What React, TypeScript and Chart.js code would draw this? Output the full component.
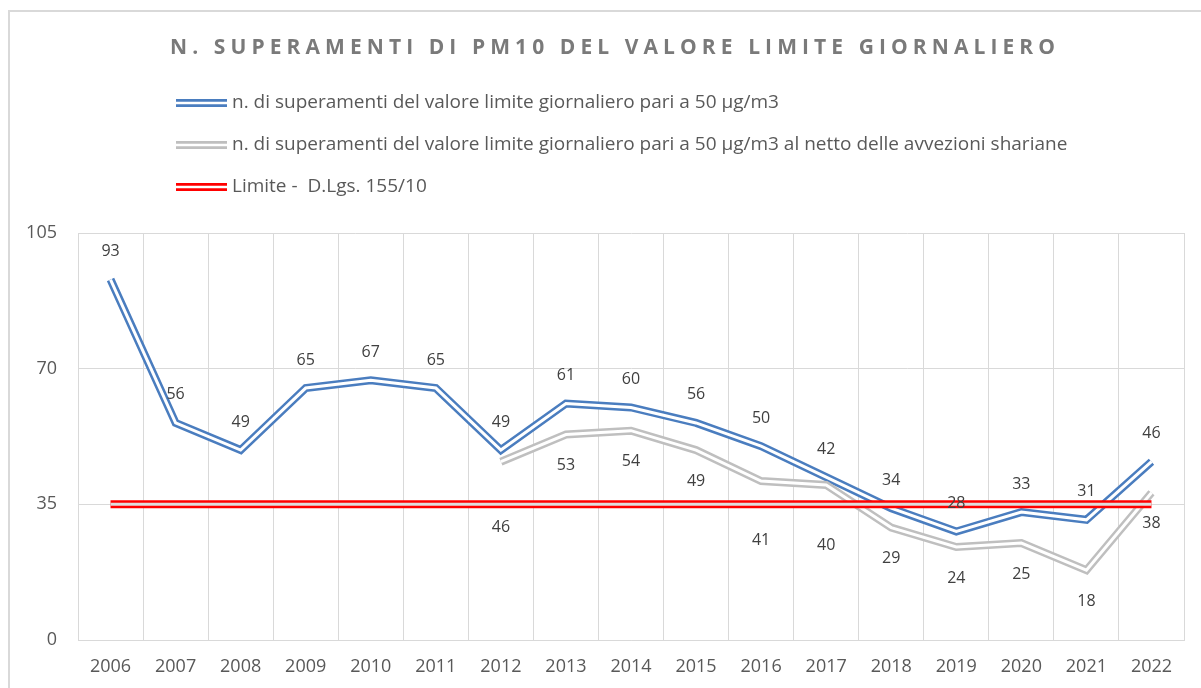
import React, { useEffect, useRef } from "react";
import { Chart, registerables } from "chart.js";

Chart.register(...registerables);

// ---------- DATA ----------
const years = ["2006", "2007", "2008", "2009", "2010", "2011", "2012", "2013", "2014", "2015", "2016", "2017", "2018", "2019", "2020", "2021", "2022"];
const exceedances = [93, 56, 49, 65, 67, 65, 49, 61, 60, 56, 50, 42, 34, 28, 33, 31, 46];
const exceedancesNet = [null, null, null, null, null, null, 46, 53, 54, 49, 41, 40, 29, 24, 25, 18, 38];
const limitValues = [35, 35, 35, 35, 35, 35, 35, 35, 35, 35, 35, 35, 35, 35, 35, 35, 35];
const yTicks = [0, 35, 70, 105];

const titleText = "N. SUPERAMENTI DI PM10 DEL VALORE LIMITE GIORNALIERO";
const seriesLabels = [
  "n. di superamenti del valore limite giornaliero pari a 50 µg/m3",
  "n. di superamenti del valore limite giornaliero pari a 50 µg/m3 al netto delle avvezioni shariane",
  "Limite -  D.Lgs. 155/10",
];
// extra downward shift (px) of a few grey value labels, moved by hand in the original
const greyLabelNudge: Record<string, number> = { "2012": 35, "2016": 28, "2017": 29 };

// ---------- STYLE ----------
const BLUE = "#4a7dbf";
const GREY = "#bfbfbf";
const RED = "#ff0000";
const GRID = "#d9d9d9";
const TEXT = "#595959";
const FONT = '"Open Sans", "Liberation Sans", sans-serif';

const doubleLinePlugin = {
  id: "doubleLine",
  afterDatasetDraw(chart: any, args: any) {
    const ds = chart.data.datasets[args.index];
    if (!ds.innerColor) return;
    const meta = args.meta;
    const ctx = chart.ctx;
    ctx.save();
    ctx.strokeStyle = ds.innerColor;
    ctx.lineWidth = ds.innerWidth;
    ctx.lineJoin = "miter";
    ctx.lineCap = "butt";
    ctx.beginPath();
    let started = false;
    meta.data.forEach((pt: any, i: number) => {
      const v = ds.data[i];
      if (v === null || v === undefined) {
        started = false;
        return;
      }
      if (!started) {
        ctx.moveTo(pt.x, pt.y);
        started = true;
      } else ctx.lineTo(pt.x, pt.y);
    });
    ctx.stroke();
    ctx.restore();
  },
};

const valueLabelPlugin = {
  id: "valueLabels",
  afterDatasetsDraw(chart: any) {
    const ctx = chart.ctx;
    ctx.save();
    ctx.font = `16px ${FONT}`;
    ctx.fillStyle = "#404040";
    ctx.textAlign = "center";
    ctx.textBaseline = "middle";
    [0, 1].forEach((di) => {
      const ds = chart.data.datasets[di];
      const meta = chart.getDatasetMeta(di);
      meta.data.forEach((pt: any, i: number) => {
        const v = ds.data[i];
        if (v === null || v === undefined) return;
        const y = di === 0 ? pt.y - 28 : pt.y + 31 + (greyLabelNudge[years[i]] || 0);
        ctx.fillText(String(v), pt.x, y);
      });
    });
    ctx.restore();
  },
};

const titleLegendPlugin = {
  id: "titleLegend",
  afterDraw(chart: any) {
    const ctx = chart.ctx;
    ctx.save();
    // title
    ctx.font = `bold 21px ${FONT}`;
    ctx.fillStyle = "#7a7a7a";
    ctx.textBaseline = "middle";
    ctx.textAlign = "left";
    (ctx as any).letterSpacing = "0px";
    const w = ctx.measureText(titleText).width;
    const target = 885;
    const ls = (target - w) / (titleText.length - 1);
    (ctx as any).letterSpacing = `${ls}px`;
    ctx.fillText(titleText, 160, 36);
    (ctx as any).letterSpacing = "0px";

    // legend
    const colors = [BLUE, GREY, RED];
    const rowsY = [91, 133, 175];
    ctx.font = `19px ${FONT}`;
    seriesLabels.forEach((lbl, i) => {
      const y = rowsY[i];
      ctx.lineCap = "butt";
      ctx.strokeStyle = colors[i];
      ctx.lineWidth = 8;
      ctx.beginPath();
      ctx.moveTo(166, y);
      ctx.lineTo(217, y);
      ctx.stroke();
      ctx.strokeStyle = "#ffffff";
      ctx.lineWidth = 2.5;
      ctx.beginPath();
      ctx.moveTo(165, y);
      ctx.lineTo(218, y);
      ctx.stroke();
      ctx.fillStyle = TEXT;
      ctx.fillText(lbl, 222, y);
    });
    ctx.restore();
  },
};

export default function App() {
  const ref = useRef<HTMLCanvasElement | null>(null);

  useEffect(() => {
    document.documentElement.style.overflow = "hidden";
    const canvas = ref.current;
    if (!canvas) return;
    const chart = new Chart(canvas, {
      type: "line",
      data: {
        labels: years,
        datasets: [
          {
            label: seriesLabels[0],
            data: exceedances,
            borderColor: BLUE,
            borderWidth: 8,
            borderJoinStyle: "miter",
            pointRadius: 0,
            tension: 0,
            order: 2,
            innerColor: "#ffffff",
            innerWidth: 3,
          } as any,
          {
            label: seriesLabels[1],
            data: exceedancesNet,
            borderColor: GREY,
            borderWidth: 8,
            borderJoinStyle: "miter",
            pointRadius: 0,
            tension: 0,
            order: 1,
            innerColor: "#ffffff",
            innerWidth: 3,
          } as any,
          {
            label: seriesLabels[2],
            data: limitValues,
            borderColor: RED,
            borderWidth: 8,
            pointRadius: 0,
            tension: 0,
            order: 0,
            innerColor: "#dedede",
            innerWidth: 3,
          } as any,
        ],
      },
      options: {
        responsive: false,
        animation: false,
        devicePixelRatio: 1,
        layout: { padding: { top: 221, right: 22, left: 0, bottom: 0 } },
        plugins: {
          legend: { display: false },
          title: { display: false },
          tooltip: { enabled: false },
        },
        scales: {
          x: {
            offset: true,
            grid: { offset: true, color: GRID, lineWidth: 1, drawTicks: false },
            border: { display: true, color: GRID },
            ticks: { color: TEXT, font: { family: FONT, size: 18 }, padding: 16, maxRotation: 0 },
            afterFit(scale: any) {
              scale.height = 68;
            },
          },
          y: {
            min: 0,
            max: 105,
            grid: { color: GRID, lineWidth: 1, drawTicks: false },
            border: { display: true, color: GRID },
            ticks: { color: TEXT, font: { family: FONT, size: 18 }, padding: 21 },
            afterBuildTicks(scale: any) {
              scale.ticks = yTicks.map((v) => ({ value: v }));
            },
            afterFit(scale: any) {
              scale.width = 68;
            },
          },
        },
      } as any,
      plugins: [doubleLinePlugin, valueLabelPlugin, titleLegendPlugin],
    });
    return () => chart.destroy();
  }, []);

  return (
    <div
      style={{
        position: "absolute",
        left: 8,
        top: 10,
        width: 1200,
        height: 700,
        border: "2px solid #d9d9d9",
        boxSizing: "border-box",
        background: "#fff",
      }}
    >
      <canvas ref={ref} width={1196} height={696} style={{ display: "block" }} />
    </div>
  );
}
